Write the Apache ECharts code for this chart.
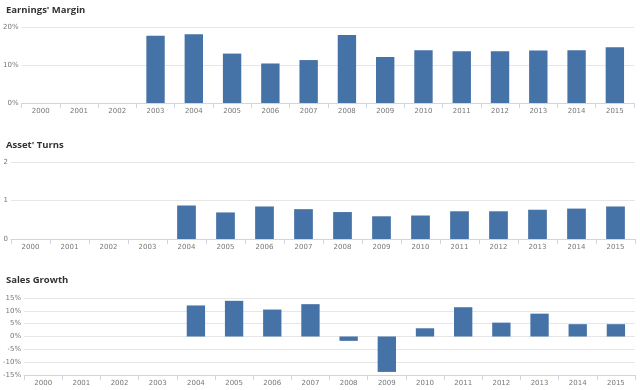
<!DOCTYPE html>
<html><head><meta charset="utf-8">
<script src="https://cdn.jsdelivr.net/npm/echarts@6/dist/echarts.min.js"></script>
<style>html,body{margin:0;padding:0;background:#fff}#c{width:640px;height:390px}</style>
</head><body><div id="c"></div>
<script>
const years = ['2000','2001','2002','2003','2004','2005','2006','2007','2008','2009','2010','2011','2012','2013','2014','2015'];
const earningsMargin = [null,null,null,17.7,18.1,13.0,10.4,11.3,17.9,12.1,13.9,13.6,13.6,13.8,13.9,14.7];
const assetTurns = [null,null,null,null,0.87,0.69,0.845,0.775,0.70,0.59,0.61,0.72,0.72,0.76,0.79,0.845];
const salesGrowth = [null,null,null,null,12.1,13.9,10.5,12.6,-1.7,-13.8,3.2,11.4,5.4,8.9,4.8,4.8];
const titles = ["Earnings' Margin", "Asset' Turns", "Sales Growth"];

const chart = echarts.init(document.getElementById('c'), null, {renderer:'canvas'});
const barColor = '#4572a7';
const labelStyle = {color:'#777', fontSize:7, fontFamily:'DejaVu Sans'};
function xAxis(i){
  return {type:'category', gridIndex:i, data:years,
    axisLine:{onZero:false, lineStyle:{color:'#ccd6eb'}},
    axisTick:{show:true, lineStyle:{color:'#ccd6eb'}, length:5},
    axisLabel:Object.assign({margin:5}, labelStyle)};
}
function yAxis(i, min, max, interval, pct){
  return {type:'value', gridIndex:i, min, max, interval,
    axisLine:{show:false}, axisTick:{show:false},
    splitLine:{lineStyle:{color:'#e6e6e6'}},
    axisLabel:Object.assign({margin:3, formatter: pct ? '{value}%' : '{value}'}, labelStyle)};
}
const titleStyle = {fontSize:9.5, fontWeight:'bold', color:'#333', fontFamily:'Open Sans'};
chart.setOption({
  animation:false,
  title:[
    {text:titles[0], left:6, top:5, padding:0, textStyle:titleStyle},
    {text:titles[1], left:6, top:140, padding:0, textStyle:titleStyle},
    {text:titles[2], left:6, top:275, padding:0, textStyle:titleStyle}
  ],
  grid:[
    {left:21, right:6, top:27, height:76},
    {left:11, right:5, top:162, height:77},
    {left:22, right:5, top:298, height:77}
  ],
  xAxis:[xAxis(0), xAxis(1), xAxis(2)],
  yAxis:[yAxis(0,0,20,10,true), yAxis(1,0,2,1,false), yAxis(2,-15,15,5,true)],
  series:[
    {type:'bar', xAxisIndex:0, yAxisIndex:0, data:earningsMargin, barWidth:'48%', itemStyle:{color:barColor}},
    {type:'bar', xAxisIndex:1, yAxisIndex:1, data:assetTurns, barWidth:'48%', itemStyle:{color:barColor}},
    {type:'bar', xAxisIndex:2, yAxisIndex:2, data:salesGrowth, barWidth:'48%', itemStyle:{color:barColor}}
  ]
});
</script></body></html>
